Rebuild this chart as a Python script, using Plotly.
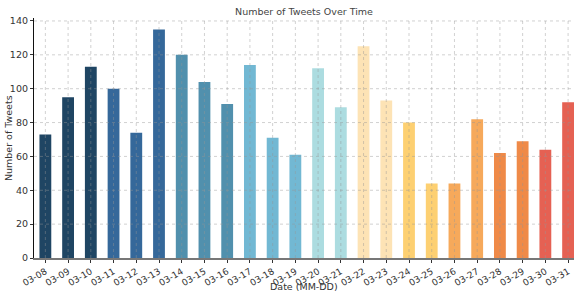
import plotly.graph_objects as go

dates = ["03-08", "03-09", "03-10", "03-11", "03-12", "03-13", "03-14", "03-15",
         "03-16", "03-17", "03-18", "03-19", "03-20", "03-21", "03-22", "03-23",
         "03-24", "03-25", "03-26", "03-27", "03-28", "03-29", "03-30", "03-31"]
tweets = [73, 95, 113, 100, 74, 135, 120, 104, 91, 114, 71, 61,
          112, 89, 125, 93, 80, 44, 44, 82, 62, 69, 64, 92]
y_ticks = [0, 20, 40, 60, 80, 100, 120, 140]

colors = (["#1f4563"] * 3 + ["#35689a"] * 3 + ["#5190ad"] * 3 + ["#72b8d3"] * 3 +
          ["#acdce0"] * 2 + ["#fde3b5"] * 2 + ["#fdd072"] * 2 + ["#f6a95b"] * 2 +
          ["#ef8a48"] * 2 + ["#e56153"] * 2)

FONT = "DejaVu Sans"

fig = go.Figure(go.Bar(
    x=dates, y=tweets, width=0.52,
    marker=dict(color=colors, line=dict(width=0)),
))

grid = dict(color="rgba(150,150,150,0.55)", width=0.8, dash="dot")
shapes = []
for d in dates:
    shapes.append(dict(type="line", xref="x", yref="paper", x0=d, x1=d, y0=0, y1=1,
                       line=grid, layer="above"))
for t in y_ticks[1:]:
    shapes.append(dict(type="line", xref="paper", yref="y", x0=0, x1=1, y0=t, y1=t,
                       line=grid, layer="above"))

fig.update_layout(
    width=574, height=292, autosize=False,
    margin=dict(l=34, r=0, t=18, b=34, pad=0),
    paper_bgcolor="white", plot_bgcolor="white",
    font=dict(family=FONT, size=9.5, color="#333"),
    showlegend=False,
    shapes=shapes,
    title=dict(text="Number of Tweets Over Time", x=0.5, xref="paper",
               y=1 - 12 / 292, yref="container", yanchor="middle", xanchor="center",
               automargin=False,
               font=dict(family=FONT, size=9.5, color="#444")),
    annotations=[
        dict(text="Date (MM-DD)", xref="paper", yref="paper", x=0.5, y=-0.117,
             xanchor="center", yanchor="middle", showarrow=False,
             font=dict(family=FONT, size=9.5, color="#333")),
        dict(text="Number of Tweets", xref="paper", yref="paper", x=-0.048, y=0.5,
             xanchor="center", yanchor="middle", showarrow=False, textangle=-90,
             font=dict(family=FONT, size=9.5, color="#333")),
    ],
)

fig.update_xaxes(
    type="category", range=[-0.5, 23.26], showgrid=False, zeroline=False,
    ticks="outside", ticklen=3, tickcolor="#333", tickwidth=1,
    tickangle=-30, tickfont=dict(family=FONT, size=9, color="#333"),
    ticklabelstandoff=0,
    showline=True, linecolor="#777", linewidth=2, layer="above traces",
    automargin=False,
)
fig.update_yaxes(
    range=[0, 141.75], tickvals=y_ticks, showgrid=False, zeroline=False,
    ticks="outside", ticklen=3, tickcolor="#333", tickwidth=1,
    tickfont=dict(family=FONT, size=9.5, color="#333"),
    showline=True, linecolor="#111", linewidth=1.2,
    automargin=False,
)

fig.write_html("out.html", config={"displayModeBar": False},
               post_script="document.body.style.margin='0px';")
